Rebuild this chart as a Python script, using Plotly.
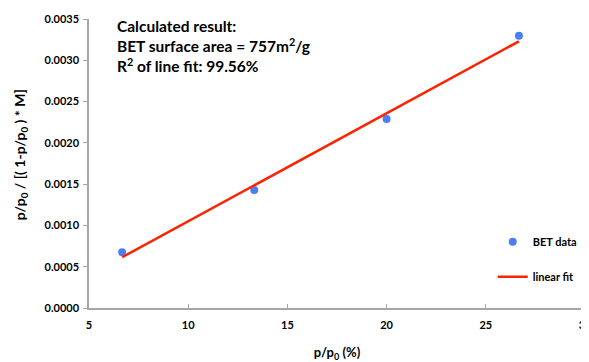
import plotly.graph_objects as go

# Data
x_data = [6.67, 13.33, 20.0, 26.67]
y_data = [0.000676, 0.001428, 0.00229, 0.003297]
fit_x = [6.67, 26.67]
fit_y = [0.000615, 0.00323]
x_ticks = [5, 10, 15, 20, 25, 30]
y_ticks = [0.0, 0.0005, 0.0010, 0.0015, 0.0020, 0.0025, 0.0030, 0.0035]
y_tick_labels = ["0.0000", "0.0005", "0.0010", "0.0015", "0.0020", "0.0025", "0.0030", "0.0035"]
result_lines = ["Calculated result:", "BET surface area = 757m<sup>2</sup>/g", "R<sup>2</sup> of line fit: 99.56%"]

FONT = "Lato"
axis_col = "#a6a6a6"

fig = go.Figure()
fig.add_trace(go.Scatter(
    x=x_data, y=y_data, mode="markers", name="BET data",
    marker=dict(color="#4a7ef2", size=8), legendgroup="a"))
fig.add_trace(go.Scatter(
    x=fit_x, y=fit_y, mode="lines", name="linear fit",
    line=dict(color="#ff2200", width=2.5), legendgroup="b"))

# page body has an 8px default margin, so the figure is sized/offset to compensate
fig.update_layout(
    width=600, height=354,
    margin=dict(l=81, r=23, t=11, b=54, autoexpand=False),
    paper_bgcolor="white", plot_bgcolor="white",
    font=dict(family=FONT, color="black"),
    showlegend=True,
    legend=dict(x=0.814, y=0.169, xanchor="left", yanchor="middle",
                font=dict(family=FONT, size=11, color="black", weight="bold"),
                tracegroupgap=16, itemwidth=30, bgcolor="rgba(0,0,0,0)"),
    xaxis=dict(range=[5, 30], tickvals=x_ticks, showgrid=False, zeroline=False,
               automargin=False, ticklabeloverflow="allow",
               showline=True, linecolor=axis_col, linewidth=1.5,
               ticks="inside", ticklen=4, tickcolor=axis_col, tickwidth=1,
               ticklabelstandoff=6,
               tickfont=dict(family=FONT, size=11, color="black", weight="bold"),
               title=dict(text="p/p<sub>0</sub> (%)", standoff=18,
                          font=dict(family=FONT, size=13, color="black", weight="bold"))),
    yaxis=dict(range=[0, 0.0035], tickvals=y_ticks, ticktext=y_tick_labels,
               showgrid=False, zeroline=False, automargin=False,
               showline=True, linecolor=axis_col, linewidth=1.5,
               ticks="outside", ticklen=4, tickcolor=axis_col, tickwidth=1,
               ticklabelstandoff=2,
               tickfont=dict(family=FONT, size=11, color="black", weight="bold")),
)

fig.add_annotation(
    text="p/p<sub>0</sub> / [( 1-p/p<sub>0</sub> ) * M]",
    xref="paper", yref="paper", x=-0.139, y=0.529, textangle=-90,
    showarrow=False, xanchor="center", yanchor="middle",
    font=dict(family=FONT, size=14, color="black", weight="bold"))

fig.add_annotation(
    text="<br>".join(result_lines),
    xref="paper", yref="paper", x=(115 - 89) / 496, y=1.014,
    xanchor="left", yanchor="top", align="left", showarrow=False,
    font=dict(family=FONT, size=15.5, color="black", weight="bold"))

fig.write_html("out.html")
